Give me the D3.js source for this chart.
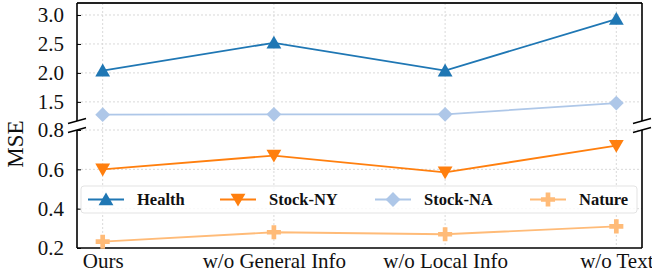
<!DOCTYPE html>
<html>
<head>
<meta charset="utf-8">
<script src="https://cdn.jsdelivr.net/npm/d3@7"></script>
<style>
  body { margin: 0; background: #fff; }
  text { font-family: "Liberation Serif", "Times New Roman", serif; }
</style>
</head>
<body>
<div id="canvas"></div>
<script>
// data
const categories = ['Ours', 'w/o General Info', 'w/o Local Info', 'w/o Text'];
const health = [2.04, 2.52, 2.04, 2.93];
const stockNA = [1.28, 1.285, 1.285, 1.48];
const stockNY = [0.60, 0.67, 0.585, 0.72];
const nature = [0.232, 0.28, 0.27, 0.31];
const topTicks = [1.5, 2.0, 2.5, 3.0];
const bottomTicks = [0.2, 0.4, 0.6, 0.8];

// constants
const width = 652;
const height = 270;
const plotLeft = 77;
const plotRight = 642;
const plotTop = 3;
const upperBottom = 121;   // bottom of upper panel
const lowerTop = 130;      // top of lower panel
const plotBottom = 248;

const series = [
  { name: 'Health', values: health, color: '#1f77b4', symbol: d3.symbolTriangle, rot: 0, panel: 'top' },
  { name: 'Stock-NY', values: stockNY, color: '#ff7f0e', symbol: d3.symbolTriangle, rot: 180, panel: 'bot' },
  { name: 'Stock-NA', values: stockNA, color: '#aec7e8', symbol: d3.symbolSquare, rot: 45, panel: 'top' },
  { name: 'Nature', values: nature, color: '#ffbb78', symbol: d3.symbolCross, rot: 0, panel: 'bot' }
];

// scales
const x = d3.scalePoint()
    .domain(categories)
    .range([plotLeft, plotRight])
    .padding(0.15);
const yTop = d3.scaleLinear()
    .domain([1.17, 3.207])
    .range([upperBottom, plotTop]);
const yBot = d3.scaleLinear()
    .domain([0.2, 0.8])
    .range([plotBottom, lowerTop]);

const svg = d3.select('#canvas')
    .append('svg').attr('width', width).attr('height', height);

// grid
const grid = svg.append('g').attr('class', 'grid')
    .attr('stroke', '#d9d9d9').attr('stroke-width', 1).attr('stroke-dasharray', '2,2');
grid.selectAll('.vg').data(categories).join('line')
    .attr('class', 'vg')
    .attr('x1', d => x(d)).attr('x2', d => x(d))
    .attr('y1', plotTop).attr('y2', plotBottom);
grid.selectAll('.hgt').data(topTicks).join('line')
    .attr('class', 'hgt')
    .attr('x1', plotLeft).attr('x2', plotRight)
    .attr('y1', d => yTop(d)).attr('y2', d => yTop(d));
grid.selectAll('.hgb').data(bottomTicks.slice(1)).join('line')
    .attr('class', 'hgb')
    .attr('x1', plotLeft).attr('x2', plotRight)
    .attr('y1', d => yBot(d)).attr('y2', d => yBot(d));

// axes
const yTopAxis = d3.axisLeft(yTop).tickValues(topTicks).tickFormat(d3.format('.1f')).tickSize(-4);
const yBotAxis = d3.axisLeft(yBot).tickValues(bottomTicks).tickFormat(d3.format('.1f')).tickSize(-4);
const xAxis = d3.axisBottom(x).tickSize(0).tickPadding(5);

function styleAxis(g) {
  g.select('.domain').remove();
  g.selectAll('.tick line').attr('stroke', '#000');
  g.selectAll('.tick text').attr('font-size', 21).attr('fill', '#111');
}

svg.append('g')
    .attr('transform', `translate(${plotLeft},0)`)
    .call(yTopAxis).call(styleAxis)
    .selectAll('.tick text').attr('x', -13);
svg.append('g')
    .attr('transform', `translate(${plotLeft},0)`)
    .call(yBotAxis).call(styleAxis)
    .selectAll('.tick text').attr('x', -13);
svg.append('g')
    .attr('transform', `translate(0,${plotBottom})`)
    .call(xAxis).call(styleAxis);

// frame
const frame = svg.append('g').attr('stroke', '#000').attr('stroke-width', 1.6).attr('fill', 'none');
frame.append('line').attr('x1', plotLeft).attr('x2', plotRight).attr('y1', plotTop).attr('y2', plotTop).attr('stroke', '#222').attr('stroke-width', 2.2);
frame.append('line').attr('x1', plotLeft).attr('x2', plotRight).attr('y1', plotBottom).attr('y2', plotBottom);
[plotLeft, plotRight].forEach(xx => {
  frame.append('line').attr('x1', xx).attr('x2', xx).attr('y1', plotTop).attr('y2', upperBottom);
  frame.append('line').attr('x1', xx).attr('x2', xx).attr('y1', lowerTop).attr('y2', plotBottom);
  // break marks
  [upperBottom, lowerTop].forEach(yy => {
    frame.append('line')
        .attr('x1', xx - 9).attr('y1', yy + 2.5)
        .attr('x2', xx + 9).attr('y2', yy - 2.5)
        .attr('stroke-width', 1.3);
  });
});

// lines and markers
const plot = svg.append('g');
series.forEach(s => {
  const y = s.panel === 'top' ? yTop : yBot;
  const line = d3.line().x((d, i) => x(categories[i])).y(d => y(d));
  plot.append('path')
      .datum(s.values)
      .attr('d', line)
      .attr('fill', 'none')
      .attr('stroke', s.color)
      .attr('stroke-width', 1.8);
  const sym = d3.symbol().type(s.symbol).size(s.symbol === d3.symbolTriangle ? 95 : 110);
  plot.selectAll(null).data(s.values).join('path')
      .attr('d', sym)
      .attr('fill', s.color)
      .attr('transform', (d, i) => `translate(${x(categories[i])},${y(d) + (s.symbol === d3.symbolTriangle ? (s.rot ? -1.5 : 1.5) : 0)}) rotate(${s.rot})`);
});

// legend
const legend = svg.append('g');
legend.append('rect')
    .attr('x', 81).attr('y', 186).attr('width', 556).attr('height', 27)
    .attr('rx', 3).attr('fill', 'rgba(255,255,255,0.85)')
    .attr('stroke', '#e3e3e3').attr('stroke-width', 1);
const legendX = [88, 220, 375, 530];
series.forEach((s, i) => {
  const g = legend.append('g').attr('transform', `translate(${legendX[i]},199.5)`);
  g.append('line').attr('x1', 0).attr('x2', 36).attr('stroke', s.color).attr('stroke-width', 1.8);
  const sym = d3.symbol().type(s.symbol).size(s.symbol === d3.symbolTriangle ? 95 : 110);
  g.append('path').attr('d', sym).attr('fill', s.color)
      .attr('transform', `translate(18,${s.symbol === d3.symbolTriangle ? (s.rot ? -1.5 : 1.5) : 0}) rotate(${s.rot})`);
  g.append('text').attr('x', 49).attr('y', 5.5)
      .attr('font-size', 16.5).attr('font-weight', 'bold').attr('fill', '#111')
      .text(s.name);
});

// y label
svg.append('text')
    .attr('transform', 'translate(23,144) rotate(-90)')
    .attr('text-anchor', 'middle')
    .attr('font-size', 23).attr('fill', '#111')
    .text('MSE');
</script>
</body>
</html>
